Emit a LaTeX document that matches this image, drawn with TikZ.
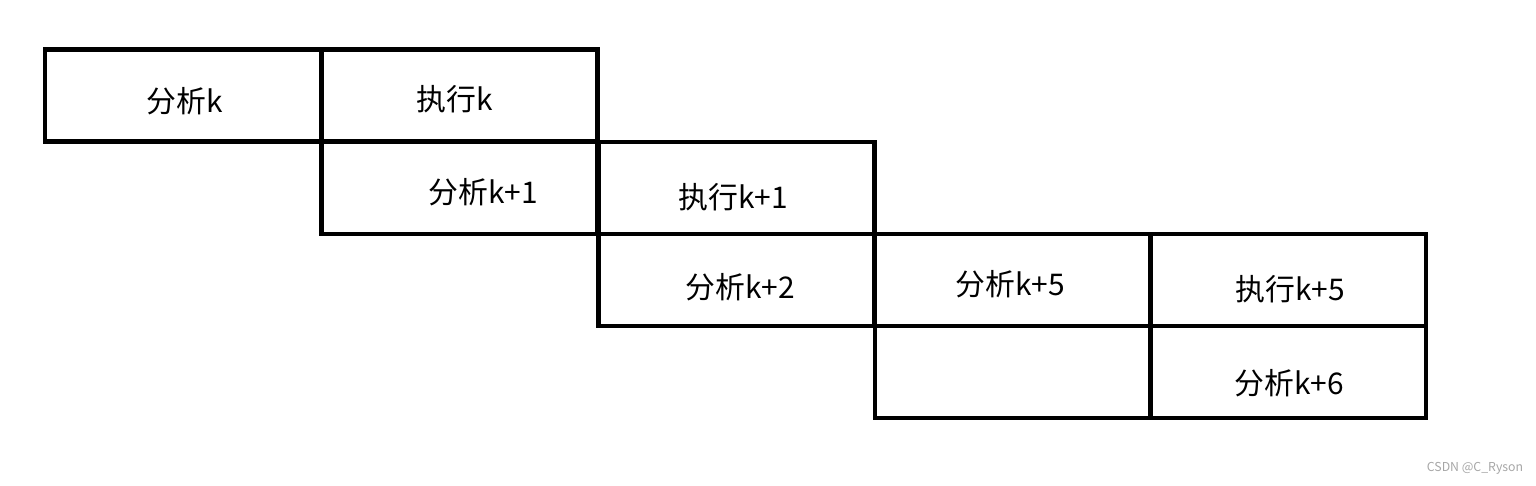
\documentclass[tikz,border=0pt]{standalone}
\usepackage{fontspec}
\setmainfont{Noto Sans CJK SC}
\usetikzlibrary{positioning}

\tikzset{
  cell/.style={draw, line width=2.3pt, minimum width=5.52cm, minimum height=1.84cm, inner sep=0pt, outer sep=0pt},
  txt/.style={font=\fontsize{17}{18}\selectfont}
}

\begin{document}
\begin{tikzpicture}
    \useasboundingbox (0,0) rectangle (30.72,-9.70);
    % stage boxes
    \node[cell] (a1) at (3.66,-1.91) {};
    \node[cell] (b1) at (9.19,-1.91) {};
    \node[cell] (a2) at (9.19,-3.76) {};
    \node[cell] (b2) at (14.73,-3.76) {};
    \node[cell] (a3) at (14.73,-5.60) {};
    \node[cell] (b3) at (20.26,-5.60) {};
    \node[cell] (c3) at (25.76,-5.60) {};
    \node[cell] (b4) at (20.26,-7.44) {};
    \node[cell] (c4) at (25.76,-7.44) {};
    
    % labels
    \node[txt] (t1) at (3.70,-2.02) {分析k};
    \node[txt] (t2) at (9.10,-1.98) {执行k};
    \node[txt] (t3) at (9.66,-3.84) {分析k+1};
    \node[txt] (t4) at (14.66,-3.94) {执行k+1};
    \node[txt] (t5) at (14.80,-5.74) {分析k+2};
    \node[txt] (t6) at (20.20,-5.68) {分析k+5};
    \node[txt] (t7) at (25.80,-5.78) {执行k+5};
    \node[txt] (t8) at (25.78,-7.66) {分析k+6};
    
    \node[text=gray!70, font=\fontsize{7}{8}\selectfont] (mark) at (29.50,-9.36) {CSDN @C\_Ryson};
\end{tikzpicture}
\end{document}
